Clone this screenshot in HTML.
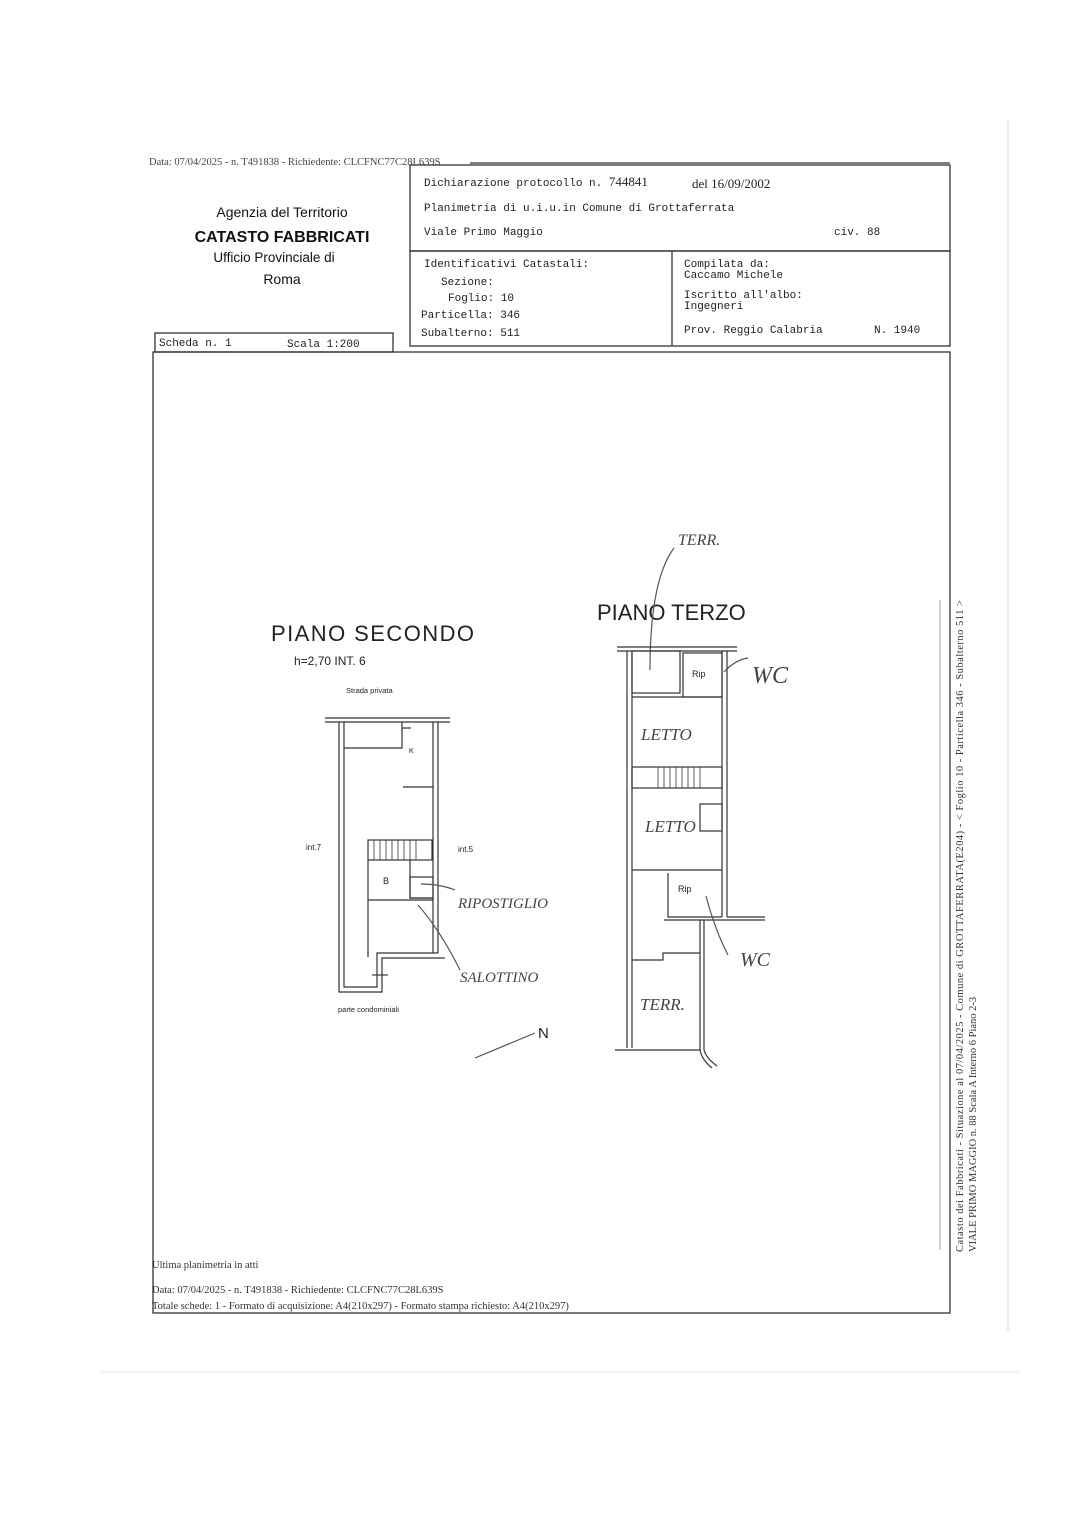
<!DOCTYPE html>
<html><head><meta charset="utf-8"><style>
html,body{margin:0;padding:0;background:#fff}
svg{display:block}
.s{font-family:"Liberation Serif",serif}
.m{font-family:"Liberation Mono",monospace}
.a{font-family:"Liberation Sans",sans-serif}
</style></head><body>
<svg width="1086" height="1536" viewBox="0 0 1086 1536" xmlns="http://www.w3.org/2000/svg">
<rect width="1086" height="1536" fill="#fff"/>
<g stroke="#333" fill="none" stroke-width="1.3">
<line x1="470" y1="163" x2="950" y2="163"/>
<rect x="410" y="165" width="540" height="86"/>
<rect x="410" y="251" width="540" height="95"/>
<line x1="672" y1="251" x2="672" y2="346"/>
<rect x="155" y="333" width="238" height="19"/>
<rect x="153" y="352" width="797" height="961"/>
<line x1="940" y1="600" x2="940" y2="1250" stroke="#bbb"/>
<line x1="1008" y1="120" x2="1008" y2="1330" stroke="#ddd"/>
<line x1="100" y1="1372" x2="1020" y2="1372" stroke="#eee"/>
</g>
<text class="s" x="149" y="165" font-size="10.5" fill="#444">Data: 07/04/2025 - n. T491838 - Richiedente: CLCFNC77C28L639S</text>
<g class="a" text-anchor="middle" fill="#111">
<text x="282" y="217" font-size="14">Agenzia del Territorio</text>
<text x="282" y="242" font-size="16" font-weight="bold">CATASTO FABBRICATI</text>
<text x="274" y="262" font-size="13.5">Ufficio Provinciale di</text>
<text x="282" y="284" font-size="14">Roma</text>
</g>
<g class="m" font-size="11" fill="#222">
<text x="424" y="186">Dichiarazione protocollo n. <tspan class="s" font-size="13">744841</tspan></text>
<text x="692" y="188" class="s" font-size="13">del 16/09/2002</text>
<text x="424" y="211">Planimetria di u.i.u.in Comune di Grottaferrata</text>
<text x="424" y="235">Viale Primo Maggio</text>
<text x="834" y="235">civ. 88</text>
<text x="424" y="267">Identificativi Catastali:</text>
<text x="441" y="285">Sezione:</text>
<text x="448" y="301">Foglio: 10</text>
<text x="421" y="318">Particella: 346</text>
<text x="421" y="336">Subalterno: 511</text>
<text x="684" y="267">Compilata da:</text>
<text x="684" y="278">Caccamo Michele</text>
<text x="684" y="298">Iscritto all'albo:</text>
<text x="684" y="309">Ingegneri</text>
<text x="684" y="333">Prov. Reggio Calabria</text>
<text x="874" y="333">N. 1940</text>
<text x="159" y="346">Scheda n. 1</text>
<text x="287" y="347">Scala 1:200</text>
</g>
<g transform="translate(963,1252) rotate(-90)" class="s" font-size="10.5" fill="#333">
<text x="0" y="0" textLength="652">Catasto dei Fabbricati - Situazione al 07/04/2025 - Comune di GROTTAFERRATA(E204) - &lt; Foglio 10 - Particella 346 - Subalterno 511 &gt;</text>
<text x="0" y="13">VIALE PRIMO MAGGIO n. 88 Scala A Interno 6 Piano 2-3</text>
</g>
<g class="s" font-size="10.5" fill="#333">
<text x="152" y="1268">Ultima planimetria in atti</text>
<text x="152" y="1293">Data: 07/04/2025 - n. T491838 - Richiedente: CLCFNC77C28L639S</text>
<text x="152" y="1309">Totale schede: 1 - Formato di acquisizione: A4(210x297) - Formato stampa richiesto: A4(210x297)</text>
</g>
<!-- Plan 1 -->
<g class="a" fill="#222">
<text x="271" y="641" font-size="22" textLength="203" transform="scale(1,1)">PIANO  SECONDO</text>
<text x="294" y="665" font-size="12">h=2,70  INT. 6</text>
<text x="346" y="693" font-size="7.5">Strada privata</text>
<text x="306" y="850" font-size="8">int.7</text>
<text x="458" y="852" font-size="8">int.5</text>
<text x="338" y="1012" font-size="7.5">parte condominiali</text>
<text x="383" y="884" font-size="9">B</text>
<text x="409" y="753" font-size="7">K</text>
</g>
<g stroke="#333" fill="none" stroke-width="1.2">
<line x1="325" y1="718" x2="450" y2="718"/><line x1="325" y1="722" x2="450" y2="722"/>
<polyline points="339,722 339,992 382,992 382,958 445,958"/>
<polyline points="344,722 344,987 377,987 377,953 438,953"/>
<line x1="433" y1="722" x2="433" y2="953"/><line x1="438" y1="722" x2="438" y2="953"/>
<polyline points="344,748 402,748 402,722"/>
<line x1="402" y1="728" x2="411" y2="728"/>
<line x1="403" y1="787" x2="433" y2="787"/>
<rect x="368" y="840" width="64" height="20"/>
<line x1="368" y1="900" x2="433" y2="900"/><line x1="368" y1="860" x2="368" y2="957"/>
<polyline points="410,860 410,898 433,898"/>
<rect x="410" y="877" width="23" height="21"/>
<g stroke-width="0.8"><line x1="374" y1="840" x2="374" y2="860"/><line x1="380" y1="840" x2="380" y2="860"/><line x1="386" y1="840" x2="386" y2="860"/><line x1="392" y1="840" x2="392" y2="860"/><line x1="398" y1="840" x2="398" y2="860"/><line x1="404" y1="840" x2="404" y2="860"/><line x1="410" y1="840" x2="410" y2="860"/><line x1="416" y1="840" x2="416" y2="860"/></g>
<line x1="372" y1="975" x2="388" y2="975"/>
<path d="M421 884 Q440 884 455 890" stroke="#555"/>
<path d="M418 905 Q440 930 460 970" stroke="#555"/>
<line x1="475" y1="1058" x2="535" y2="1033" stroke="#555"/>
</g>
<g class="s" fill="#444" font-size="15">
<text x="458" y="908" font-style="italic">RIPOSTIGLIO</text>
<text x="460" y="982" font-style="italic">SALOTTINO</text>
</g>
<text x="538" y="1038" class="a" font-size="15" fill="#222">N</text>
<!-- Plan 2 -->
<text x="597" y="620" class="a" font-size="22" fill="#222">PIANO  TERZO</text>
<text x="678" y="545" class="s" font-size="16" fill="#444" font-style="italic">TERR.</text>
<path d="M674 548 Q650 580 650 670" stroke="#555" fill="none" stroke-width="1.2"/>
<g stroke="#333" fill="none" stroke-width="1.2">
<line x1="617" y1="647" x2="737" y2="647"/><line x1="617" y1="651" x2="737" y2="651"/>
<line x1="627" y1="651" x2="627" y2="1048"/><line x1="632" y1="651" x2="632" y2="1048"/>
<line x1="722" y1="651" x2="722" y2="917"/><line x1="727" y1="651" x2="727" y2="917"/>
<rect x="632" y="651" width="48" height="42"/>
<rect x="683" y="653" width="39" height="44"/>
<line x1="632" y1="697" x2="722" y2="697"/>
<rect x="632" y="767" width="90" height="21"/>
<g stroke-width="0.8"><line x1="658" y1="767" x2="658" y2="788"/><line x1="664" y1="767" x2="664" y2="788"/><line x1="670" y1="767" x2="670" y2="788"/><line x1="676" y1="767" x2="676" y2="788"/><line x1="682" y1="767" x2="682" y2="788"/><line x1="688" y1="767" x2="688" y2="788"/><line x1="694" y1="767" x2="694" y2="788"/><line x1="700" y1="767" x2="700" y2="788"/></g>
<rect x="700" y="804" width="22" height="27"/>
<line x1="632" y1="870" x2="722" y2="870"/>
<polyline points="668,873 668,917 722,917"/>
<line x1="664" y1="920" x2="765" y2="920"/><line x1="727" y1="917" x2="765" y2="917"/>
<line x1="700" y1="920" x2="700" y2="1050"/><line x1="704" y1="920" x2="704" y2="1050"/>
<polyline points="632,960 663,960 663,953 700,953"/>
<line x1="615" y1="1050" x2="700" y2="1050"/>
<path d="M700 1050 Q702 1060 712 1068 M704 1050 Q706 1058 717 1066"/>
<path d="M724 672 Q735 660 748 658 M706 896 Q715 930 728 955" stroke="#555"/>
</g>
<g class="a" font-size="9" fill="#222"><text x="692" y="677">Rip</text><text x="678" y="892">Rip</text></g>
<g class="s" fill="#444" font-style="italic" font-size="17">
<text x="752" y="683" font-size="24">WC</text>
<text x="740" y="966" font-size="20">WC</text>
<text x="641" y="740">LETTO</text>
<text x="645" y="832">LETTO</text>
<text x="640" y="1010">TERR.</text>
</g>
</svg>
</body></html>
